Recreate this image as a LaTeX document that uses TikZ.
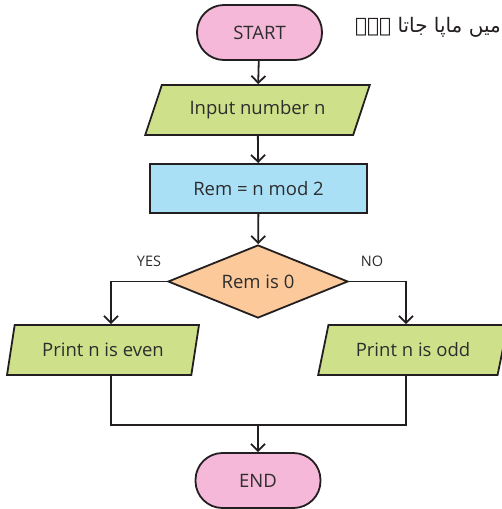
\documentclass[tikz,border=0pt]{standalone}
\usepackage{fontspec}
\setmainfont{Open Sans}
\newfontfamily\urdufont[Script=Arabic]{DejaVu Sans}
\TeXXeTstate=1
\usetikzlibrary{arrows.meta,shapes.geometric}

\definecolor{termpink}{RGB}{245,184,216}
\definecolor{iogreen}{RGB}{207,224,138}
\definecolor{procblue}{RGB}{170,224,246}
\definecolor{decorange}{RGB}{251,201,154}
\definecolor{ink}{RGB}{35,31,32}
\definecolor{txt}{RGB}{45,45,45}

\tikzset{
  base/.style={draw=ink, line width=1.8pt, text=txt, font=\fontsize{18.5}{22}\selectfont, inner sep=0pt},
  terminal/.style={base, fill=termpink, rectangle, rounded corners=27pt, minimum width=125pt, minimum height=55pt},
  iobox/.style={base, fill=iogreen, trapezium, trapezium stretches=true, minimum height=50pt},
  procbox/.style={base, fill=procblue, rectangle, minimum width=217pt, minimum height=49pt},
  decision/.style={base, fill=decorange, diamond, aspect=2.45, minimum width=180pt, minimum height=73pt},
  flow/.style={draw=ink, line width=1.8pt, -{Straight Barb[length=7pt,width=14pt,line width=1.8pt]}},
  joinline/.style={draw=ink, line width=1.8pt},
  branch/.style={text=txt, font=\fontsize{14.5}{17}\selectfont}
}

\begin{document}
\begin{tikzpicture}[x=1pt,y=-1pt]
  \useasboundingbox (0,0) rectangle (502,509);

  % caption line at the top right
  \node[anchor=east, text=ink, font=\urdufont\fontsize{20}{26}\selectfont, inner sep=0pt] (caption)
    at (501,27) {\beginR میں ماپا جاتا ہے۔\endR};

  % shapes
  \node[terminal] (start) at (259.5,32.5) {START};
  \node[iobox, trapezium left angle=57.4, trapezium right angle=122.6, minimum width=225pt] (input) at (257.5,110) {Input number n};
  \node[procbox] (rem) at (258.5,188.5) {Rem = n mod 2};
  \node[decision] (test) at (258,281.5) {Rem is 0};
  \node[iobox, trapezium left angle=69, trapezium right angle=111, minimum width=192pt] (even) at (103,350) {Print n is even};
  \node[iobox, trapezium left angle=64, trapezium right angle=116, minimum width=190pt] (odd) at (413,350) {Print n is odd};
  \node[terminal] (stop) at (258,480.5) {END};

  % branch labels
  \node[branch] (yes) at (149,261) {YES};
  \node[branch] (no) at (372,261) {NO};

  % junction below the two outputs
  \coordinate (joinM) at (258,425);

  % connectors
  \draw[flow] (test.west) -| (even.north -| 111,0);
  \draw[flow] (test.east) -| (odd.north -| 406,0);
  \draw[flow] (start) -- (input);
  \draw[flow] (input) -- (rem);
  \draw[flow] (rem) -- (test);
  \draw[joinline] (even.south -| 111,0) |- (joinM) -| (odd.south -| 406,0);
  \draw[flow] (joinM) -- (stop);
\end{tikzpicture}
\end{document}
